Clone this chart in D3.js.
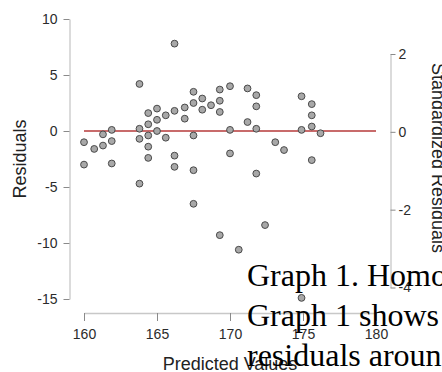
<!DOCTYPE html>
<html>
<head>
<meta charset="utf-8">
<script src="https://cdn.jsdelivr.net/npm/d3@7"></script>
<style>
  body { margin: 0; background: #fff; overflow: hidden; }
</style>
</head>
<body>
<div id="chart"></div>
<script>
// predicted values (x) and raw residuals (y)
const predicted = [160.0, 160.0, 160.7, 161.3, 161.3, 161.9, 161.9, 161.9, 163.8, 163.8, 163.8, 163.8,
  164.4, 164.4, 164.4, 164.4, 164.4, 165.0, 165.0, 165.0, 165.6, 165.6, 166.2, 166.2, 166.2, 166.2,
  166.9, 166.9, 167.5, 167.5, 167.5, 167.5, 167.5, 168.1, 168.1, 168.7, 169.3, 169.3, 169.3, 169.3,
  170.0, 170.0, 170.0, 170.6, 171.2, 171.2, 171.8, 171.8, 171.8, 171.8, 172.4, 173.1, 173.7,
  174.9, 174.9, 175.6, 175.6, 175.6, 175.6, 176.2, 174.9];
const residuals = [-1.0, -3.0, -1.6, -0.3, -1.3, 0.1, -0.9, -2.9, 4.2, 0.2, -0.7, -4.7,
  1.6, 0.6, -0.4, -1.4, -2.4, 2.0, 1.0, 0.0, 1.4, -0.6, 7.8, 1.8, -2.2, -3.2,
  2.1, 1.1, 3.5, 2.5, -0.4, -3.5, -6.5, 2.9, 1.9, 2.3, 3.7, 2.7, 1.7, -9.3,
  4.0, 0.1, -2.0, -10.6, 3.8, 0.8, 3.2, 2.2, 0.2, -3.8, -8.4, -1.0, -1.7,
  3.1, 0.1, 2.4, 1.4, 0.4, -2.6, -0.2, -14.9];

const xTicks = [160, 165, 170, 175, 180];
const yTicks = [-15, -10, -5, 0, 5, 10];
const stdTicks = [-4, -2, 0, 2];
const refLine = [[160, 0], [180, 0]];

// text from the document page that sits on top of the screenshot
const overlayLines = ["Graph 1. Homo", "Graph 1 shows", "residuals aroun"];

const width = 442, height = 372;

const svg = d3.select("#chart")
  .append("svg")
  .attr("width", width)
  .attr("height", height)
  .style("font-family", "'Liberation Sans', Arial, sans-serif");

const x = d3.scaleLinear().domain([160, 180]).range([84, 376]);
const y = d3.scaleLinear().domain([-15, 10]).range([299, 19]);
const yStd = d3.scaleLinear().domain([-4, 2]).range([287.5, 54]);

// plain hyphen for negatives, like the original
const fmt = d => String(d);

function styleAxis(g) {
  g.select(".domain").attr("stroke", "#c8c8c8").attr("stroke-width", 1.3);
  g.selectAll(".tick line").attr("stroke", "#8a8a8a");
  g.selectAll(".tick text").attr("fill", "#2b2b2b").style("font-size", "14px");
}

// left axis
svg.append("g")
  .attr("transform", "translate(69.5,0)")
  .call(d3.axisLeft(y).tickValues(yTicks).tickFormat(fmt).tickSize(6).tickSizeOuter(0).tickPadding(6))
  .call(styleAxis);

// bottom axis
svg.append("g")
  .attr("transform", "translate(0,313)")
  .call(d3.axisBottom(x).tickValues(xTicks).tickFormat(fmt).tickSize(8).tickSizeOuter(0).tickPadding(8))
  .call(styleAxis);

// right axis (standardized residuals)
svg.append("g")
  .attr("transform", "translate(390.5,0)")
  .call(d3.axisRight(yStd).tickValues(stdTicks).tickFormat(fmt).tickSize(5).tickSizeOuter(0).tickPadding(3))
  .call(styleAxis);

// zero line
svg.append("path")
  .datum(refLine)
  .attr("fill", "none")
  .attr("stroke", "#c86b6b")
  .attr("stroke-width", 2)
  .attr("d", d3.line().x(d => x(d[0])).y(d => y(d[1])));

// points
svg.append("g")
  .selectAll("circle")
  .data(predicted.map((p, i) => ({ p: p, r: residuals[i] })))
  .join("circle")
  .attr("cx", d => x(d.p))
  .attr("cy", d => y(d.r))
  .attr("r", 3.4)
  .attr("fill", "#a8a8a8")
  .attr("stroke", "#4a4a4a")
  .attr("stroke-width", 1);

// axis titles
svg.append("text")
  .attr("transform", "translate(25.5,159) rotate(-90)")
  .attr("text-anchor", "middle")
  .attr("fill", "#222")
  .style("font-size", "18px")
  .text("Residuals");

svg.append("text")
  .attr("x", 230)
  .attr("y", 370)
  .attr("text-anchor", "middle")
  .attr("fill", "#222")
  .style("font-size", "18px")
  .text("Predicted Values");

svg.append("text")
  .attr("transform", "translate(432,158) rotate(90)")
  .attr("text-anchor", "middle")
  .attr("fill", "#222")
  .style("font-size", "18px")
  .text("Standardized Residuals");

// overlaid document text
svg.append("g")
  .selectAll("text")
  .data(overlayLines)
  .join("text")
  .attr("x", 247)
  .attr("y", (d, i) => 286 + i * 40)
  .attr("fill", "#000")
  .style("font-family", "'Liberation Serif', 'Times New Roman', serif")
  .style("font-size", "32px")
  .text(d => d);
</script>
</body>
</html>
